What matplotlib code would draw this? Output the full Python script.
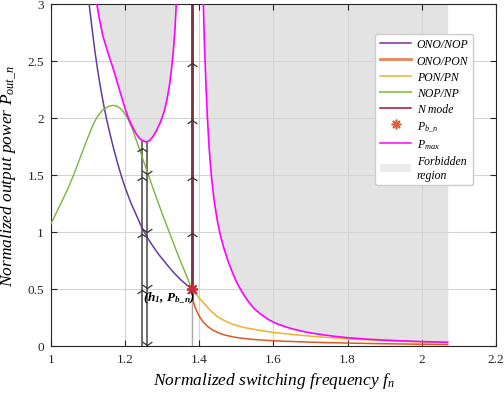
import matplotlib
matplotlib.use("Agg")
import matplotlib.pyplot as plt
from matplotlib.patches import Patch
from matplotlib.lines import Line2D

plt.rcParams['font.family'] = ['Liberation Serif', 'DejaVu Serif']
plt.rcParams['mathtext.fontset'] = 'custom'
plt.rcParams['mathtext.rm'] = 'Liberation Serif'
plt.rcParams['mathtext.it'] = 'Liberation Serif:italic'
plt.rcParams['mathtext.bf'] = 'Liberation Serif:bold:italic'

# ONO/NOP
f_ono_nop = [1.103, 1.11, 1.118, 1.126, 1.134, 1.142, 1.15, 1.16, 1.17, 1.18,
             1.19, 1.2, 1.215, 1.23, 1.245, 1.26, 1.275, 1.29, 1.305, 1.32,
             1.335, 1.35, 1.365, 1.38]
p_ono_nop = [3.0, 2.81, 2.6, 2.42, 2.26, 2.12, 1.99, 1.85, 1.72, 1.6,
             1.49, 1.39, 1.26, 1.15, 1.04, 0.95, 0.875, 0.805, 0.745, 0.685,
             0.63, 0.58, 0.538, 0.5]

# ONO/PON
f_ono_pon = [1.38, 1.382, 1.385, 1.39, 1.396, 1.403, 1.412, 1.422, 1.435, 1.45,
             1.47, 1.5, 1.54, 1.58, 1.63, 1.7, 1.8, 1.9, 2.0, 2.07]
p_ono_pon = [0.5, 0.44, 0.38, 0.33, 0.285, 0.245, 0.205, 0.172, 0.142, 0.117,
             0.094, 0.074, 0.058, 0.049, 0.041, 0.033, 0.025, 0.019, 0.015, 0.012]

# PON/PN
f_pon_pn = [1.38, 1.39, 1.4, 1.411, 1.422, 1.435, 1.45, 1.47, 1.49, 1.52,
            1.56, 1.6, 1.656, 1.72, 1.8, 1.9, 2.0, 2.07]
p_pon_pn = [0.5, 0.46, 0.42, 0.38, 0.34, 0.295, 0.255, 0.218, 0.19, 0.162,
            0.138, 0.118, 0.099, 0.08, 0.062, 0.046, 0.035, 0.029]

# NOP/NP
f_nop_np = [1.0, 1.015, 1.03, 1.046, 1.06, 1.073, 1.087, 1.1, 1.115, 1.127,
            1.14, 1.155, 1.168, 1.18, 1.192, 1.205, 1.22, 1.235, 1.25, 1.265,
            1.28, 1.3, 1.32, 1.34, 1.36, 1.38]
p_nop_np = [1.07, 1.17, 1.27, 1.38, 1.49, 1.6, 1.72, 1.83, 1.95, 2.02,
            2.07, 2.1, 2.11, 2.1, 2.07, 2.01, 1.9, 1.76, 1.62, 1.48,
            1.34, 1.16, 0.99, 0.82, 0.66, 0.5]

# Pmax, left U-shaped branch
f_pmax_l = [1.124, 1.13, 1.14, 1.15, 1.16, 1.17, 1.18, 1.19, 1.2, 1.21,
            1.22, 1.23, 1.24, 1.25, 1.258, 1.266, 1.275, 1.285, 1.295, 1.305,
            1.313, 1.32, 1.326, 1.331, 1.335, 1.338]
p_pmax_l = [3.0, 2.88, 2.72, 2.61, 2.51, 2.41, 2.3, 2.19, 2.08, 1.99,
            1.92, 1.86, 1.815, 1.795, 1.79, 1.8, 1.835, 1.89, 1.96, 2.05,
            2.16, 2.29, 2.45, 2.62, 2.8, 3.0]

# Pmax, right branch
f_pmax_r = [1.411, 1.414, 1.418, 1.422, 1.427, 1.433, 1.44, 1.448, 1.457, 1.467,
            1.478, 1.49, 1.502, 1.516, 1.53, 1.547, 1.565, 1.585, 1.605, 1.63,
            1.656, 1.69, 1.72, 1.76, 1.8, 1.85, 1.9, 1.95, 2.0, 2.07]
p_pmax_r = [3.0, 2.65, 2.3, 2.0, 1.72, 1.48, 1.28, 1.11, 0.97, 0.85,
            0.74, 0.64, 0.55, 0.47, 0.4, 0.33, 0.28, 0.235, 0.2, 0.17,
            0.145, 0.12, 0.104, 0.086, 0.072, 0.06, 0.051, 0.044, 0.038, 0.032]

# boundary point and mode transition lines
f_b, p_b = 1.38, 0.5
f_h1_up, f_h1_down = 1.245, 1.259
up_arrows_h1 = [1.74, 1.48, 0.98, 0.49]
down_arrows_h1 = [1.51, 1.0, 0.51, 0.01]
up_arrows_n = [2.48, 1.98, 1.48, 0.99, 0.49]

fig = plt.figure(figsize=(5.04, 4.02), dpi=100)
ax = fig.add_axes([0.101, 0.137, 0.883, 0.851])

# forbidden region
ax.fill_between(f_pmax_l, p_pmax_l, 3, color='#e3e3e3', lw=0, zorder=0.2)
ax.fill_between(f_pmax_r, p_pmax_r, 3, color='#e3e3e3', lw=0, zorder=0.2)

ax.grid(True, color='#d4d4d4', lw=0.8, zorder=0.5)
ax.set_axisbelow(True)

c_purple = '#633c9c'
c_orange = '#e0581f'
c_yellow = '#f0b02a'
c_green = '#7fb23a'
c_red = '#a2142f'
c_mag = '#ff00ff'
c_gray = '#555555'

ax.plot(f_ono_nop, p_ono_nop, color=c_purple, lw=1.1, zorder=3)
ax.plot(f_ono_pon, p_ono_pon, color=c_orange, lw=1.1, zorder=3)
ax.plot(f_pon_pn, p_pon_pn, color=c_yellow, lw=1.1, zorder=3)
ax.plot(f_nop_np, p_nop_np, color=c_green, lw=1.0, zorder=3)
ax.plot(f_pmax_l, p_pmax_l, color=c_mag, lw=1.2, zorder=4)
ax.plot(f_pmax_r, p_pmax_r, color=c_mag, lw=1.2, zorder=4)

# N mode line
ax.plot([f_b, f_b], [p_b, 3], color=c_red, lw=2.0, zorder=2)
ax.plot([f_b, f_b], [0, 3], color=c_gray, lw=1.0, alpha=0.5, zorder=2.5)

# gray transition lines with arrows
ax.plot([f_h1_up, f_h1_up], [0, 1.79], color=c_gray, lw=1.2, zorder=2)
ax.plot([f_h1_down, f_h1_down], [0, 1.79], color=c_gray, lw=1.2, zorder=2)

up = [(-1, -0.7), (0, 0), (1, -0.7)]
down = [(-1, 0.7), (0, 0), (1, 0.7)]
ax.plot([f_h1_up] * len(up_arrows_h1), up_arrows_h1, ls='none', marker=up,
        ms=7, mfc='none', mec='#333333', mew=0.9, zorder=5)
ax.plot([f_h1_down] * len(down_arrows_h1), down_arrows_h1, ls='none', marker=down,
        ms=7, mfc='none', mec='#333333', mew=0.9, zorder=5)
ax.plot([f_b] * len(up_arrows_n), up_arrows_n, ls='none', marker=up,
        ms=7, mfc='none', mec='#333333', mew=0.9, zorder=5)

star = (8, 2, 0)
ax.plot([f_b], [p_b], ls='none', marker=star, ms=8, mec='#c8283a', mew=1.3, zorder=6)

ax.text(1.249, 0.43, r'$\mathbf{(h_1,\,P_{b\_n})}$', fontsize=9.5, va='center',
        ha='left', zorder=7)

ax.set_xlim(1, 2.2)
ax.set_ylim(0, 3)
ax.set_xticks([1, 1.2, 1.4, 1.6, 1.8, 2, 2.2])
ax.set_xticklabels(['1', '1.2', '1.4', '1.6', '1.8', '2', '2.2'])
ax.set_yticks([0, 0.5, 1, 1.5, 2, 2.5, 3])
ax.set_yticklabels(['0', '0.5', '1', '1.5', '2', '2.5', '3'])
ax.tick_params(direction='in', top=True, right=True, length=4, width=0.8,
               labelsize=9.5, colors='#262626', pad=5)
for s in ax.spines.values():
    s.set_color('#262626')
    s.set_linewidth(0.8)

ax.set_xlabel(r'Normalized switching frequency $f_n$', fontsize=12.5,
              style='italic', labelpad=4)
ax.set_ylabel(r'Normalized output power $P_{out\_n}$', fontsize=12.5,
              style='italic', labelpad=6)

handles = [
    Line2D([], [], color='#7e2f8e', lw=1.1),
    Line2D([], [], color='#e8845a', lw=2.0),
    Line2D([], [], color=c_yellow, lw=1.1),
    Line2D([], [], color='#9cc96a', lw=1.6),
    Line2D([], [], color=c_red, lw=1.1),
    Line2D([], [], ls='none', marker=star, ms=7, mec='#e0603a', mew=1.2),
    Line2D([], [], color=c_mag, lw=1.1),
    Patch(facecolor='#ececec', edgecolor='none'),
]
labels = ['ONO/NOP', 'ONO/PON', 'PON/PN', 'NOP/NP', 'N mode',
          r'$P_{b\_n}$', r'$P_{max}$', 'Forbidden\nregion']
leg = ax.legend(handles, labels, loc='upper right', bbox_to_anchor=(0.962, 0.93),
                prop={'family': 'Liberation Serif', 'style': 'italic', 'size': 8.5},
                handlelength=2.6, labelspacing=0.35, handletextpad=0.5,
                borderpad=0.4, fancybox=True, framealpha=1, edgecolor='#cccccc',
                shadow=False)
leg.set_zorder(10)

plt.savefig('out.png', dpi=100)
